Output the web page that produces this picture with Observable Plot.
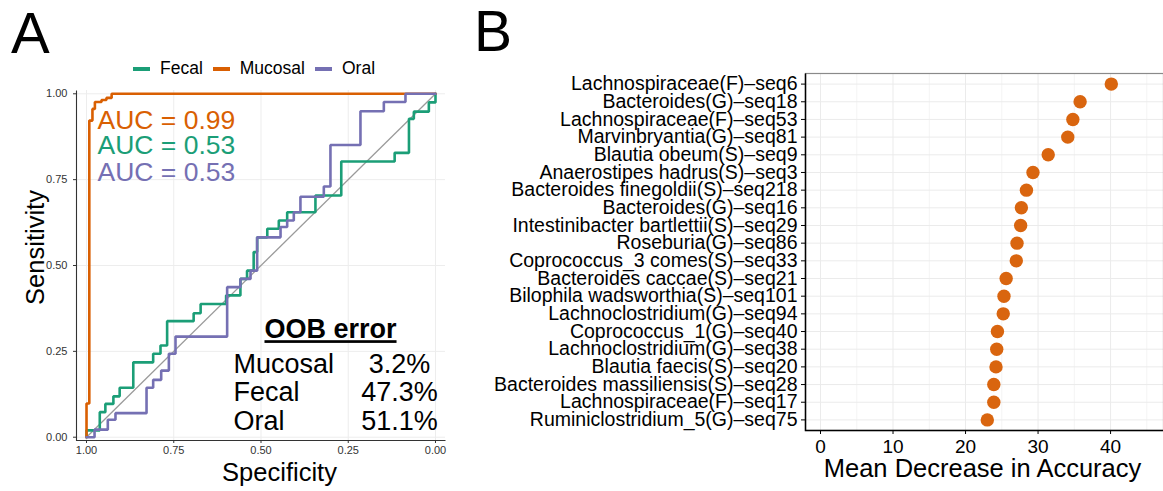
<!DOCTYPE html>
<html><head><meta charset="utf-8">
<script src="https://cdn.jsdelivr.net/npm/d3@7"></script>
<script src="https://cdn.jsdelivr.net/npm/@observablehq/plot@0.6"></script>
<style>
html,body{margin:0;padding:0;background:#fff;}
body{width:1163px;height:491px;position:relative;overflow:hidden;font-family:"Liberation Sans",Arial,Helvetica,sans-serif;color:#000;}
.abs{position:absolute;line-height:1;white-space:nowrap;}
#panelA{position:absolute;left:0;top:80px;}
#panelB{position:absolute;left:480px;top:60px;}
#legend{position:absolute;left:133px;top:60px;display:flex;align-items:center;font-size:17.5px;line-height:1;white-space:nowrap;}
.item{display:flex;align-items:center;margin-right:10px;}
.sw{width:17px;height:4px;margin-right:10px;}
</style></head><body>
<div class="abs" style="left:11px;top:4px;font-size:58px">A</div>
<div class="abs" style="left:474px;top:3px;font-size:57px">B</div>
<div id="legend"></div>
<div id="panelA"></div>
<div id="panelB"></div>
<script>
// ---------- data ----------
const groups = ["Fecal", "Mucosal", "Oral"];
const groupColors = ["#1b9e77", "#d95f02", "#7570b3"];

const fecalSpec = [1, 1, 0.962, 0.946, 0.923, 0.905, 0.866, 0.809, 0.788, 0.769, 0.693, 0.673, 0.600, 0.559, 0.540, 0.521, 0.511, 0.482, 0.449, 0.425, 0.344, 0.270, 0.117, 0.076, 0.062, 0.019, 0];
const fecalSens = [0, 0.020, 0.073, 0.097, 0.119, 0.144, 0.218, 0.243, 0.267, 0.338, 0.361, 0.388, 0.413, 0.461, 0.485, 0.539, 0.582, 0.607, 0.631, 0.655, 0.704, 0.803, 0.828, 0.927, 0.948, 0.975, 1];
const mucosalSpec = [1, 1, 0.992, 0.983, 0.976, 0.957, 0.943, 0.928, 0];
const mucosalSens = [0, 0.098, 0.922, 0.956, 0.976, 0.982, 0.988, 1, 1];
const oralSpec = [1, 0.977, 0.939, 0.917, 0.828, 0.809, 0.786, 0.764, 0.745, 0.597, 0.559, 0.530, 0.511, 0.444, 0.425, 0.406, 0.387, 0.320, 0.301, 0.215, 0.148, 0.086, 0];
const oralSens = [0, 0.022, 0.051, 0.070, 0.144, 0.167, 0.194, 0.243, 0.293, 0.437, 0.461, 0.485, 0.582, 0.612, 0.631, 0.655, 0.700, 0.730, 0.851, 0.949, 0.976, 1, 1];

const aucGroups = ["Mucosal", "Fecal", "Oral"];
const aucLabels = ["AUC = 0.99", "AUC = 0.53", "AUC = 0.53"];
const oobTitle = "OOB error";
const oobGroups = ["Mucosal", "Fecal", "Oral"];
const oobValues = ["3.2%", "47.3%", "51.1%"];
const rocTicks = [0, 0.25, 0.5, 0.75, 1];

const featureNames = [
  "Lachnospiraceae(F)–seq6",
  "Bacteroides(G)–seq18",
  "Lachnospiraceae(F)–seq53",
  "Marvinbryantia(G)–seq81",
  "Blautia obeum(S)–seq9",
  "Anaerostipes hadrus(S)–seq3",
  "Bacteroides finegoldii(S)–seq218",
  "Bacteroides(G)–seq16",
  "Intestinibacter bartlettii(S)–seq29",
  "Roseburia(G)–seq86",
  "Coprococcus_3 comes(S)–seq33",
  "Bacteroides caccae(S)–seq21",
  "Bilophila wadsworthia(S)–seq101",
  "Lachnoclostridium(G)–seq94",
  "Coprococcus_1(G)–seq40",
  "Lachnoclostridium(G)–seq38",
  "Blautia faecis(S)–seq20",
  "Bacteroides massiliensis(S)–seq28",
  "Lachnospiraceae(F)–seq17",
  "Ruminiclostridium_5(G)–seq75"
];
const meanDecrease = [40.1, 35.8, 34.8, 34.1, 31.4, 29.3, 28.4, 27.7, 27.6, 27.1, 27.0, 25.6, 25.3, 25.2, 24.4, 24.3, 24.2, 23.9, 23.9, 23.0];
const accTicks = [0, 10, 20, 30, 40];
const accMinorTicks = [5, 15, 25, 35, 45];
const xTitleA = "Specificity", yTitleA = "Sensitivity", xTitleB = "Mean Decrease in Accuracy";

// ---------- build ----------
const font = '"Liberation Sans", Arial, Helvetica, sans-serif';
const colorOf = g => groupColors[groups.indexOf(g)];

// legend
const leg = document.getElementById("legend");
groups.forEach((g, i) => {
  const it = document.createElement("div"); it.className = "item";
  const sw = document.createElement("div"); sw.className = "sw"; sw.style.background = groupColors[i];
  const tx = document.createElement("span"); tx.textContent = g;
  it.appendChild(sw); it.appendChild(tx); leg.appendChild(it);
});

const roc = [];
[["Fecal", fecalSpec, fecalSens], ["Mucosal", mucosalSpec, mucosalSens], ["Oral", oralSpec, oralSens]]
  .forEach(([g, s, t]) => s.forEach((v, i) => roc.push({group: g, spec: v, sens: t[i]})));

const xDomA = [1.0287, -0.0287], yDomA = [-0.0096, 1.0096];
const wA = 455, hA = 411, mlA = 76, mrA = 10, mtA = 10, mbA = 51;
const fwA = wA - mlA - mrA, fhA = hA - mtA - mbA;
const aucDy = [38, 63, 90];
const oobDy = [282.7, 310.7, 339];

const plotA = Plot.plot({
  width: wA, height: hA, marginLeft: mlA, marginRight: mrA, marginTop: mtA, marginBottom: mbA,
  style: {fontFamily: font, background: "transparent", overflow: "visible", color: "#000"},
  x: {domain: xDomA, label: null},
  y: {domain: yDomA, label: null},
  color: {domain: groups, range: groupColors},
  marks: [
    Plot.gridX(rocTicks, {stroke: "#ededed", strokeOpacity: 1, strokeWidth: 1}),
    Plot.gridY(rocTicks, {stroke: "#ededed", strokeOpacity: 1, strokeWidth: 1}),
    Plot.frame({stroke: "#333", strokeWidth: 1.1, strokeDasharray: `0 ${fwA + fhA} ${fwA + fhA}`}),
    Plot.axisX(rocTicks, {tickFormat: d3.format(".2f"), tickSize: 3, tickPadding: 3, fontSize: 11, color: "#333", label: null}),
    Plot.axisY(rocTicks, {tickFormat: d3.format(".2f"), tickSize: 3, tickPadding: 6, fontSize: 11, color: "#333", label: null}),
    Plot.link([0], {x1: () => 1, y1: () => 0, x2: () => 0, y2: () => 1, stroke: "#9a9a9a", strokeWidth: 1.3}),
    Plot.line(roc, {x: "spec", y: "sens", z: "group", stroke: "group", strokeWidth: 2.6, curve: "step-after", strokeLinejoin: "miter"}),
    ...aucLabels.map((t, i) => Plot.text([t], {frameAnchor: "top-left", textAnchor: "start", lineAnchor: "bottom", dx: 21, dy: aucDy[i], fill: colorOf(aucGroups[i]), fontSize: 26.5})),
    Plot.text([oobTitle], {frameAnchor: "top-left", textAnchor: "middle", lineAnchor: "bottom", dx: 254, dy: 247.7, fontSize: 27, fontWeight: "bold"}),
    ...oobGroups.map((g, i) => Plot.text([g], {frameAnchor: "top-left", textAnchor: "start", lineAnchor: "bottom", dx: 157, dy: oobDy[i], fontSize: 27})),
    ...oobValues.map((v, i) => Plot.text([v], {frameAnchor: "top-left", textAnchor: "middle", lineAnchor: "bottom", dx: 323, dy: oobDy[i], fontSize: 27})),
    Plot.text([xTitleA], {frameAnchor: "bottom", textAnchor: "middle", lineAnchor: "bottom", dx: 18.5, dy: 40, fontSize: 25.5}),
    Plot.text([yTitleA], {frameAnchor: "left", textAnchor: "middle", lineAnchor: "bottom", rotate: -90, dx: -33, dy: -18, fontSize: 25.5})
  ]
});
plotA.querySelectorAll("text").forEach(t => { if (t.textContent === oobTitle) t.style.textDecoration = "underline"; });
document.getElementById("panelA").appendChild(plotA);

const bData = featureNames.map((n, i) => ({name: n, value: meanDecrease[i]}));
const xDomB = [-2.07, 47.3];
const wB = 683, hB = 431, mlB = 325, mrB = 0, mtB = 13, mbB = 61;
const fwB = wB - mlB - mrB, fhB = hB - mtB - mbB;
const plotB = Plot.plot({
  width: wB, height: hB, marginLeft: mlB, marginRight: mrB, marginTop: mtB, marginBottom: mbB,
  style: {fontFamily: font, background: "transparent", overflow: "visible", color: "#000"},
  x: {domain: xDomB, label: null},
  y: {type: "point", domain: featureNames, padding: 0.6, round: false, label: null},
  marks: [
    Plot.gridX(accMinorTicks, {stroke: "#f4f4f4", strokeOpacity: 1}),
    Plot.gridX(accTicks, {stroke: "#ebebeb", strokeOpacity: 1}),
    Plot.gridY(featureNames, {stroke: "#ebebeb", strokeOpacity: 1}),
    Plot.frame({stroke: "#8a8a8a", strokeWidth: 1.2}),
    Plot.frame({stroke: "#000", strokeWidth: 1.5, strokeDasharray: `0 ${fwB + fhB} ${fwB + fhB}`}),
    Plot.axisX(accTicks, {tickSize: 4, tickPadding: 5, fontSize: 19, color: "#000", label: null}),
    Plot.axisY(featureNames, {tickSize: 4, tickPadding: 4, fontSize: 19.5, color: "#000", label: null}),
    Plot.dot(bData, {x: "value", y: "name", r: 6.7, fill: "#d9650f", stroke: null}),
    Plot.text([xTitleB], {frameAnchor: "bottom", textAnchor: "middle", lineAnchor: "bottom", dx: -2, dy: 46, fontSize: 25.5})
  ]
});
document.getElementById("panelB").appendChild(plotB);
</script>
</body></html>
